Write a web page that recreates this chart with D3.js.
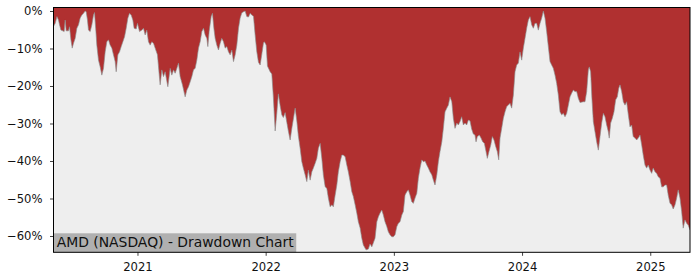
<!DOCTYPE html>
<html>
<head>
<meta charset="utf-8">
<script src="https://cdn.jsdelivr.net/npm/d3@7"></script>
<style>
  html, body { margin: 0; padding: 0; background: #ffffff; }
  svg { display: block; font-family: "DejaVu Sans", sans-serif; }
</style>
</head>
<body>
<svg id="chart" width="700" height="280"></svg>
<script>
// Time as decimal years
const dates = [
2020.347,2020.358,2020.372,2020.384,2020.392,2020.403,2020.418,2020.428,2020.436,2020.444,
2020.462,2020.470,2020.481,2020.491,2020.501,2020.514,2020.527,2020.540,2020.553,2020.566,
2020.579,2020.592,2020.600,2020.610,2020.618,2020.631,2020.644,2020.657,2020.665,2020.676,
2020.683,2020.696,2020.709,2020.722,2020.735,2020.748,2020.761,2020.774,2020.787,2020.800,
2020.813,2020.826,2020.834,2020.847,2020.860,2020.873,2020.886,2020.899,2020.912,2020.925,
2020.938,2020.951,2020.964,2020.974,2020.990,2021.000,2021.016,2021.034,2021.047,2021.060,
2021.073,2021.086,2021.099,2021.112,2021.125,2021.138,2021.156,2021.172,2021.177,2021.190,
2021.203,2021.216,2021.237,2021.255,2021.268,2021.281,2021.294,2021.307,2021.320,2021.333,
2021.351,2021.372,2021.385,2021.398,2021.411,2021.424,2021.437,2021.450,2021.463,2021.476,
2021.489,2021.502,2021.515,2021.528,2021.541,2021.549,2021.559,2021.575,2021.585,2021.596,
2021.606,2021.619,2021.632,2021.645,2021.658,2021.671,2021.684,2021.697,2021.710,2021.723,
2021.736,2021.749,2021.762,2021.775,2021.788,2021.801,2021.814,2021.827,2021.840,2021.853,
2021.866,2021.879,2021.892,2021.905,2021.918,2021.931,2021.944,2021.957,2021.970,2021.983,
2021.990,2022.004,2022.014,2022.035,2022.048,2022.060,2022.074,2022.087,2022.099,2022.113,
2022.126,2022.138,2022.152,2022.165,2022.177,2022.191,2022.204,2022.216,2022.230,2022.243,
2022.255,2022.269,2022.282,2022.294,2022.308,2022.321,2022.333,2022.347,2022.360,2022.372,
2022.386,2022.399,2022.411,2022.425,2022.438,2022.450,2022.464,2022.477,2022.489,2022.503,
2022.516,2022.528,2022.542,2022.555,2022.567,2022.581,2022.594,2022.606,2022.620,2022.633,
2022.645,2022.659,2022.672,2022.684,2022.698,2022.711,2022.723,2022.737,2022.750,2022.762,
2022.783,2022.801,2022.814,2022.828,2022.853,2022.867,2022.879,2022.892,2022.906,2022.918,
2022.931,2022.945,2022.957,2022.970,2022.984,2022.996,2023.009,2023.023,2023.035,2023.048,
2023.062,2023.074,2023.087,2023.101,2023.113,2023.126,2023.140,2023.152,2023.165,2023.179,
2023.191,2023.204,2023.218,2023.230,2023.243,2023.257,2023.269,2023.282,2023.296,2023.308,
2023.321,2023.335,2023.347,2023.360,2023.374,2023.386,2023.399,2023.413,2023.425,2023.438,
2023.452,2023.464,2023.477,2023.491,2023.503,2023.516,2023.529,2023.542,2023.555,2023.568,
2023.581,2023.594,2023.607,2023.620,2023.633,2023.641,2023.651,2023.667,2023.680,2023.693,
2023.706,2023.719,2023.729,2023.742,2023.756,2023.768,2023.781,2023.795,2023.807,2023.818,
2023.828,2023.841,2023.854,2023.867,2023.880,2023.893,2023.906,2023.919,2023.932,2023.945,
2023.958,2023.971,2023.984,2023.997,2024.010,2024.023,2024.036,2024.049,2024.062,2024.075,
2024.088,2024.101,2024.114,2024.127,2024.140,2024.153,2024.166,2024.179,2024.192,2024.205,
2024.218,2024.231,2024.244,2024.257,2024.270,2024.283,2024.296,2024.309,2024.322,2024.335,
2024.348,2024.361,2024.374,2024.387,2024.400,2024.413,2024.426,2024.439,2024.452,2024.478,
2024.491,2024.504,2024.517,2024.524,2024.535,2024.545,2024.556,2024.569,2024.582,2024.595,
2024.608,2024.621,2024.634,2024.647,2024.660,2024.673,2024.680,2024.691,2024.704,2024.717,
2024.730,2024.743,2024.754,2024.764,2024.777,2024.790,2024.803,2024.816,2024.829,2024.842,
2024.855,2024.867,2024.881,2024.894,2024.906,2024.920,2024.933,2024.945,2024.959,2024.972,
2024.984,2024.998,2025.011,2025.023,2025.037,2025.050,2025.062,2025.076,2025.089,2025.101,
2025.115,2025.128,2025.140,2025.154,2025.167,2025.179,2025.193,2025.206,2025.218,2025.232,
2025.245,2025.257,2025.271,2025.284,2025.296,2025.310
];
// Drawdown in percent
const drawdown = [
-4.0,-3.3,-1.5,-2.4,-3.7,-5.1,-5.3,-5.5,-2.4,-5.3,
-5.3,-4.2,-7.7,-9.9,-8.6,-7.3,-4.6,-3.7,-1.9,-1.1,
-0.6,0,-0.2,-2.4,-5.1,-5.5,-3.7,-1.1,-0.4,-5.5,
-9.1,-13.1,-14.9,-17.1,-15.3,-10.9,-8.2,-7.7,-9.1,-9.9,
-11.7,-13.5,-16.2,-11.7,-10.9,-9.5,-8.2,-6.9,-4.6,-1.9,
-0.6,-1.1,-2.4,-4.6,-4.8,-3.3,-5.5,-5.1,-4.6,-6.4,
-5.1,-8.2,-9.1,-8.2,-8.6,-9.9,-11.7,-17.9,-19.7,-15.7,
-17.5,-16.2,-20.2,-15.3,-17.1,-15.7,-16.6,-15.3,-13.9,-17.5,
-19.7,-22.9,-21.1,-20.2,-18.9,-17.5,-15.7,-15.3,-13.1,-9.9,
-8.2,-5.5,-4.6,-6.4,-7.3,-9.5,-5.5,-1.5,-0.6,-4.6,
-7.3,-9.1,-10.4,-8.6,-7.3,-8.2,-9.9,-9.5,-10.9,-11.7,
-10.4,-13.5,-11.7,-9.1,-4.6,-1.9,-0.5,-0.2,0,-1.5,
-1.6,-0.6,-1.1,-1.4,-6.4,-10.9,-13.7,-14.4,-11.5,-8.5,
-8.2,-9.1,-14.7,-16.2,-16.8,-22.9,-32.0,-27.2,-22.1,-25.3,
-27.7,-28.4,-27.1,-29.7,-32.0,-34.4,-31.3,-28.8,-25.9,-29.3,
-33.3,-36.6,-40.2,-41.9,-43.7,-45.5,-42.4,-45.1,-42.9,-41.9,
-40.6,-39.3,-36.6,-35.3,-39.3,-43.7,-46.9,-47.3,-49.9,-52.2,
-51.7,-52.2,-49.1,-46.4,-42.9,-40.2,-38.4,-38.4,-38.9,-41.1,
-42.9,-45.5,-48.2,-49.5,-51.7,-53.9,-56.2,-57.9,-60.6,-62.4,
-63.7,-63.5,-62.1,-62.9,-60.6,-56.2,-54.9,-53.9,-53.1,-54.4,
-56.2,-57.5,-58.9,-59.7,-60.2,-60.2,-59.7,-57.5,-56.6,-56.2,
-54.4,-53.5,-49.1,-48.2,-47.7,-49.1,-50.9,-51.3,-49.9,-48.6,
-44.6,-41.9,-39.7,-40.2,-40.0,-41.1,-41.9,-42.9,-43.7,-45.1,
-46.4,-43.7,-40.2,-37.5,-34.9,-31.3,-26.9,-25.9,-25.1,-22.9,
-24.2,-28.6,-31.3,-29.9,-30.4,-29.5,-28.2,-30.4,-29.9,-30.4,
-29.1,-29.3,-31.5,-32.8,-33.1,-34.9,-33.5,-33.1,-33.9,-34.9,
-35.3,-37.5,-39.3,-37.5,-35.7,-33.5,-34.4,-36.2,-37.5,-39.7,
-33.9,-31.3,-28.6,-26.9,-25.5,-25.1,-24.6,-25.9,-22.4,-16.2,
-14.4,-13.9,-10.9,-13.1,-9.9,-7.3,-4.6,-2.4,-1.5,-3.7,
-4.6,-3.3,-3.3,-5.1,-3.3,-1.9,0,-1.9,-5.5,-9.5,
-13.5,-14.4,-15.3,-17.1,-19.3,-22.4,-26.9,-27.7,-27.3,-28.2,
-27.3,-25.1,-22.9,-21.9,-21.1,-21.5,-21.5,-23.3,-24.4,-24.2,
-24.2,-21.5,-15.7,-14.9,-16.2,-23.3,-29.5,-32.2,-34.9,-37.1,
-33.5,-29.9,-27.3,-28.2,-30.4,-32.2,-33.9,-29.9,-28.6,-26.9,
-23.7,-22.9,-20.6,-19.7,-21.5,-24.2,-25.1,-24.2,-27.7,-30.9,
-30.4,-33.5,-33.9,-34.4,-33.9,-33.1,-35.7,-38.4,-41.1,-41.9,
-41.1,-42.4,-43.3,-41.9,-42.9,-43.3,-44.2,-44.6,-46.9,-46.9,
-46.4,-46.4,-49.1,-51.3,-51.7,-52.8,-51.7,-49.9,-47.7,-49.9,
-53.5,-57.9,-55.7,-56.6,-57.1,-58.4
];
const yTicks = [0, -10, -20, -30, -40, -50, -60];
const xTicks = [2021, 2022, 2023, 2024, 2025];
const yDomain = [-64.35, 0.93];
const caption = "AMD (NASDAQ) - Drawdown Chart";

const data = dates.map((t, i) => ({ t, v: drawdown[i] }));

const L = 53.5, T = 7.5, R = 690, B = 252.3;
const svg = d3.select("#chart");

const x = d3.scaleLinear().domain([2020.345, dates[dates.length - 1]]).range([L, R]);
const y = d3.scaleLinear().domain(yDomain).range([B, T]);

svg.append("rect").attr("x", L).attr("y", T).attr("width", R - L).attr("height", B - T)
  .attr("fill", "#eeeeee");

svg.append("clipPath").attr("id", "clip").append("rect")
  .attr("x", L).attr("y", T).attr("width", R - L).attr("height", B - T);

const g = svg.append("g").attr("clip-path", "url(#clip)");

const area = d3.area().x(d => x(d.t)).y0(T).y1(d => y(d.v));
g.append("path").datum(data).attr("d", area).attr("fill", "#b03030");

const line = d3.line().x(d => x(d.t)).y(d => y(d.v));
g.append("path").datum(data).attr("d", line).attr("fill", "none")
  .attr("stroke", "#8a8a8a").attr("stroke-width", 0.8).attr("stroke-opacity", 0.8);

// caption box
const capG = svg.append("g");
const capText = capG.append("text").attr("x", L + 3.2).attr("y", 247.3)
  .attr("font-size", "13.9px").attr("fill", "#111").text(caption);
const bb = capText.node().getBBox();
capG.insert("rect", "text").attr("x", L).attr("y", 233.3)
  .attr("width", bb.x + bb.width + 2 - L).attr("height", B - 233.3)
  .attr("fill", "#b0b0b0");

// axes
const yAxis = d3.axisLeft(y).tickValues(yTicks).tickSize(3.5).tickPadding(7.5)
  .tickFormat(d => d3.format("d")(d) + "%");
const ya = svg.append("g").attr("transform", `translate(${L},0)`).call(yAxis);
ya.select(".domain").remove();
ya.selectAll("text").attr("font-size", "11.6px").attr("fill", "#111")
  .attr("font-family", "DejaVu Sans");
ya.selectAll("line").attr("stroke", "#111").attr("stroke-width", 0.8);

const xAxis = d3.axisBottom(x).tickValues(xTicks).tickSize(3.5).tickPadding(6.5)
  .tickFormat(d3.format("d"));
const xa = svg.append("g").attr("transform", `translate(0,${B})`).call(xAxis);
xa.select(".domain").remove();
xa.selectAll("text").attr("font-size", "11.6px").attr("fill", "#111")
  .attr("font-family", "DejaVu Sans");
xa.selectAll("line").attr("stroke", "#111").attr("stroke-width", 0.8);

svg.append("rect").attr("x", L).attr("y", T).attr("width", R - L).attr("height", B - T)
  .attr("fill", "none").attr("stroke", "#000").attr("stroke-width", 1);
</script>
</body>
</html>
